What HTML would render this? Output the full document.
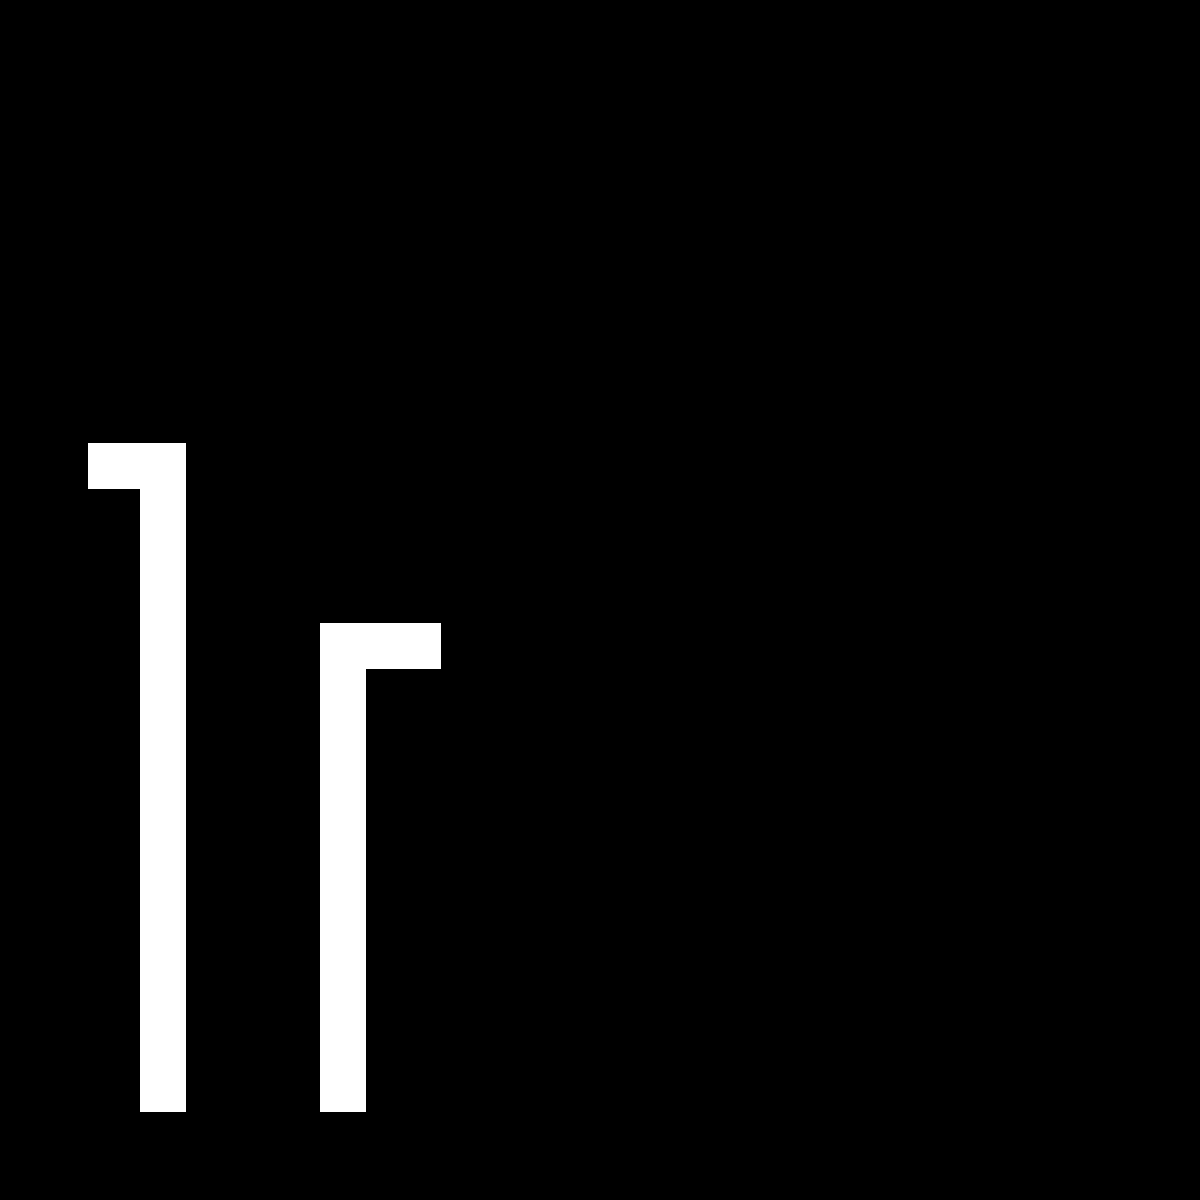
<!DOCTYPE html>
<html>
<head>
<meta charset="utf-8">
<style>
  html,body{margin:0;padding:0;background:#000;}
  #stage{position:relative;width:1200px;height:1200px;background:#000;overflow:hidden;}
  .w{position:absolute;background:#fff;}
</style>
</head>
<body>
<div id="stage">
  <div class="w" style="left:140px;top:443px;width:46px;height:669px;"></div>
  <div class="w" style="left:88px;top:443px;width:98px;height:46px;"></div>
  <div class="w" style="left:320px;top:623px;width:46px;height:489px;"></div>
  <div class="w" style="left:320px;top:623px;width:121px;height:46px;"></div>
</div>
</body>
</html>
